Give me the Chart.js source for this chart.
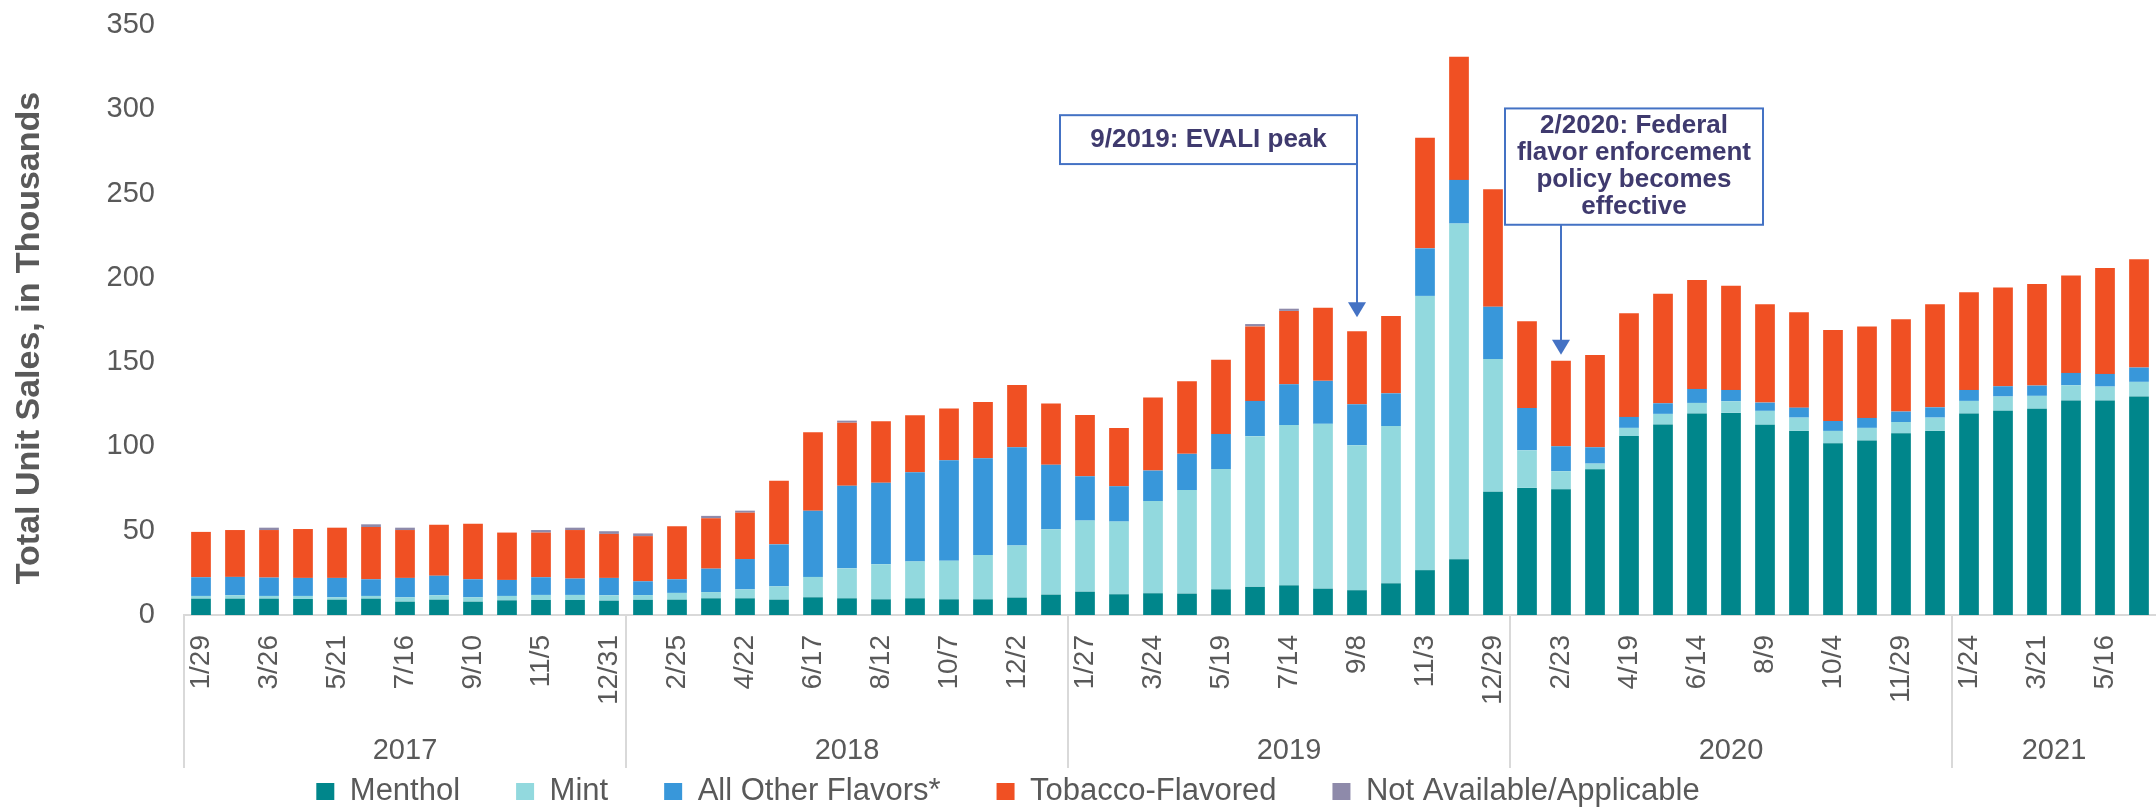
<!DOCTYPE html>
<html>
<head>
<meta charset="utf-8">
<script src="https://cdn.jsdelivr.net/npm/chart.js@4.4.1/dist/chart.umd.min.js"></script>
<style>
html,body{margin:0;padding:0;background:#fff;}
#wrap{width:2156px;height:809px;}
</style>
</head>
<body>
<div id="wrap"><canvas id="flavorChart" width="2156" height="809"></canvas></div>
<script>
// 4-week periods, grouped by year
const weeks = [
  "1/29","2/26","3/26","4/23","5/21","6/18","7/16","8/13","9/10","10/8","11/5","12/3","12/31",
  "1/28","2/25","3/25","4/22","5/20","6/17","7/15","8/12","9/9","10/7","11/4","12/2","12/30",
  "1/27","2/24","3/24","4/21","5/19","6/16","7/14","8/11","9/8","10/6","11/3","12/1","12/29",
  "1/26","2/23","3/22","4/19","5/17","6/14","7/12","8/9","9/6","10/4","11/1","11/29","12/27",
  "1/24","2/21","3/21","4/18","5/16","6/13"
]
const years = ["2017","2018","2019","2020","2021"]
const weeksPerYear = [13,13,13,13,6]

// unit sales, thousands
const menthol = [
  9.7,9.7,9.7,9.5,9.1,9.7,7.9,9.1,7.9,8.7,8.9,8.9,8.5,
  9.0,9.1,9.9,9.9,9.1,10.5,9.9,9.3,9.9,9.3,9.3,10.3,12.1,
  13.8,12.3,12.9,12.7,15.2,16.7,17.6,15.6,14.7,18.8,26.6,33.0,73.1,
  75.4,74.6,86.4,106.2,113.0,119.5,119.9,112.8,109.2,101.9,103.5,107.8,109.2,
  119.5,121.1,122.3,127.2,127.2,129.6
]
const mint = [
  1.6,2.0,1.6,1.8,1.4,1.6,2.6,2.6,2.6,2.6,3.0,3.0,3.2,
  2.8,4.0,3.7,5.3,7.9,12.1,17.8,20.8,21.9,22.9,26.3,31.0,38.7,
  42.2,43.1,54.7,61.4,71.4,89.4,95.1,97.8,86.0,93.3,162.7,199.2,78.8,
  22.3,10.7,3.4,4.8,6.3,6.3,6.9,8.3,7.9,7.3,7.5,6.7,7.9,
  7.5,8.5,7.7,9.1,8.3,8.7
]
const otherFlavors = [
  11.1,10.9,10.9,10.7,11.5,9.9,11.5,11.6,10.7,9.5,10.5,9.7,10.3,
  8.2,8.1,13.9,18.0,24.9,39.3,48.9,48.4,52.9,59.6,57.4,58.2,38.4,
  26.3,21.0,18.1,21.5,20.8,20.9,24.2,25.5,24.3,19.4,28.2,25.9,31.0,
  25.1,14.8,9.7,6.5,6.3,8.3,6.7,4.9,5.9,5.9,5.9,6.2,6.1,
  6.5,6.1,6.1,7.3,7.5,8.5
]
const tobacco = [
  26.9,27.8,28.2,29.0,29.8,31.0,28.4,30.3,33.0,28.1,26.5,28.8,26.1,
  26.8,31.4,29.9,27.5,37.8,46.5,37.5,36.4,33.8,30.7,33.4,37.0,36.2,
  36.4,34.6,43.3,43.0,44.0,44.2,43.5,43.3,43.3,45.8,65.6,73.0,69.7,
  51.5,50.8,54.8,61.5,64.9,64.7,61.8,58.4,56.6,54.0,54.2,54.8,61.2,
  58.0,58.6,60.3,57.8,62.9,64.3
]
const notAvailable = [
  0,0,1.4,0,0,1.6,1.4,0,0,0,1.5,1.4,1.6,
  1.6,0,1.4,1.2,0,0,1.2,0,0,0,0,0,0,
  0,0,0,0,0,1.4,1.3,0,0,0,0,0,0,
  0,0,0,0,0,0,0,0,0,0,0,0,0,
  0,0,0,0,0,0
]
const yTicks = [0,50,100,150,200,250,300,350]
const yTitle = 'Total Unit Sales, in Thousands'

const notes = [
  {year:"2019", week:"9/8", lines:["9/2019: EVALI peak"]},
  {year:"2020", week:"2/23", lines:["2/2020: Federal","flavor enforcement","policy becomes","effective"]}
]

const FONT = '"Liberation Sans", Arial, sans-serif'
const GREY = '#595959'

function catIndex(year, week){
  let start = 0
  for(let g=0; g<years.length; g++){
    if(years[g] === year){
      return start + weeks.slice(start, start + weeksPerYear[g]).indexOf(week)
    }
    start += weeksPerYear[g]
  }
  return -1
}

// ----------------------------
// AXIS TITLE, YEAR ROW, CALLOUTS
// ----------------------------

const noteBoxes = [
  {dx:-297, w:297, top:296.5, bottom:267.5, tipGap:14},
  {dx:-56, w:258, top:300.5, bottom:231.5, tipGap:6}
]

const extrasPlugin = {
  id:'extras',
  afterLayout(chart){
    const lg = chart.legend
    lg.left -= 70; lg.right -= 70
    lg.top += 8; lg.bottom += 8
  },
  afterDraw(chart){
    const ctx = chart.ctx
    const xs = chart.scales.x, ys = chart.scales.y
    const area = chart.chartArea
    const half = (xs.getPixelForValue(1) - xs.getPixelForValue(0)) / 2

    ctx.save()
    // y title, sits a bit below the axis middle like the source
    ctx.save()
    ctx.translate(30, (area.top + area.bottom) / 2 + 18)
    ctx.rotate(-Math.PI / 2)
    ctx.fillStyle = GREY
    ctx.font = 'bold 34px ' + FONT
    ctx.textAlign = 'center'
    ctx.textBaseline = 'middle'
    ctx.fillText(yTitle, 0, 0)
    ctx.restore()

    ctx.strokeStyle = '#d9d9d9'
    ctx.lineWidth = 2
    ctx.fillStyle = GREY
    ctx.font = '29px ' + FONT
    ctx.textAlign = 'center'
    ctx.textBaseline = 'middle'
    let start = 0
    years.forEach((yr, g) => {
      const end = start + weeksPerYear[g] - 1
      const left = xs.getPixelForValue(start) - half
      ctx.beginPath()
      ctx.moveTo(left, area.bottom)
      ctx.lineTo(left, area.bottom + 153)
      ctx.stroke()
      const mid = (xs.getPixelForValue(start) + xs.getPixelForValue(end)) / 2
      ctx.fillText(yr, mid, area.bottom + 136)
      start = end + 1
    })

    notes.forEach((n, k) => {
      const b = noteBoxes[k]
      const i = catIndex(n.year, n.week)
      const ax = xs.getPixelForValue(i)
      const total = menthol[i] + mint[i] + otherFlavors[i] + tobacco[i] + notAvailable[i]
      const tipY = ys.getPixelForValue(total) - b.tipGap
      const bx = ax + b.dx, by = ys.getPixelForValue(b.top), bb = ys.getPixelForValue(b.bottom)

      ctx.fillStyle = '#ffffff'
      ctx.fillRect(bx, by, b.w, bb - by)
      ctx.strokeStyle = '#4472C4'
      ctx.lineWidth = 2
      ctx.strokeRect(bx, by, b.w, bb - by)

      ctx.beginPath()
      ctx.moveTo(ax, bb)
      ctx.lineTo(ax, tipY - 14)
      ctx.stroke()
      ctx.fillStyle = '#4472C4'
      ctx.beginPath()
      ctx.moveTo(ax - 9, tipY - 15)
      ctx.lineTo(ax + 9, tipY - 15)
      ctx.lineTo(ax, tipY)
      ctx.closePath()
      ctx.fill()

      ctx.fillStyle = '#3F3A6E'
      ctx.font = 'bold 26px ' + FONT
      const lh = 27
      const cy = (by + bb) / 2 - (n.lines.length - 1) * lh / 2
      n.lines.forEach((t, j) => ctx.fillText(t, bx + b.w / 2, cy + j * lh))
    })
    ctx.restore()
  }
}

// ----------------------------
// CHART
// ----------------------------

new Chart(document.getElementById('flavorChart'), {
  type:'bar',
  data:{
    labels:weeks,
    datasets:[
      {label:'Menthol', data:menthol, backgroundColor:'#00868B'},
      {label:'Mint', data:mint, backgroundColor:'#92D9DE'},
      {label:'All Other Flavors*', data:otherFlavors, backgroundColor:'#3897DA'},
      {label:'Tobacco-Flavored', data:tobacco, backgroundColor:'#F05023'},
      {label:'Not Available/Applicable', data:notAvailable, backgroundColor:'#8E8AAA'}
    ]
  },
  options:{
    responsive:false,
    animation:false,
    datasets:{bar:{barPercentage:0.58, categoryPercentage:1, borderWidth:0}},
    layout:{padding:{top:25, left:0, right:0, bottom:0}},
    plugins:{
      tooltip:{enabled:false},
      legend:{
        position:'bottom',
        labels:{
          font:{family:FONT, size:31},
          color:GREY,
          boxWidth:18,
          boxHeight:17,
          padding:56
        }
      }
    },
    scales:{
      x:{
        stacked:true,
        grid:{display:false, drawTicks:false},
        border:{display:true, color:'#d9d9d9', width:2},
        ticks:{
          autoSkip:false,
          maxRotation:90,
          minRotation:90,
          padding:20,
          color:GREY,
          font:{family:FONT, size:28},
          callback:function(v, i){ return i % 2 === 0 ? this.getLabelForValue(v) : '' }
        },
        afterFit(scale){
          scale.height = 97
          scale.paddingLeft = 0
          scale.paddingRight = 0
        }
      },
      y:{
        stacked:true,
        min:yTicks[0],
        max:yTicks[yTicks.length-1],
        grid:{display:false, drawTicks:false},
        border:{display:false},
        ticks:{
          stepSize:yTicks[1]-yTicks[0],
          padding:29,
          color:GREY,
          font:{family:FONT, size:29}
        },
        afterFit(scale){
          scale.width = 184
          scale.paddingTop = 0
          scale.paddingBottom = 0
        }
      }
    }
  },
  plugins:[extrasPlugin]
})
</script>
</body>
</html>
